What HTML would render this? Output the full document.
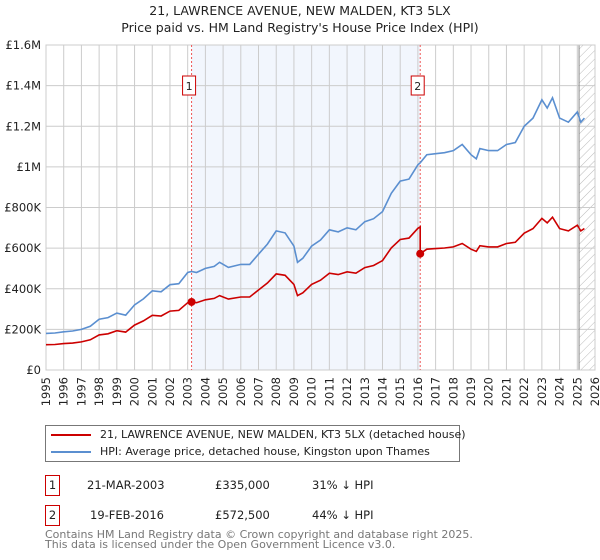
<!DOCTYPE html>
<html><head><meta charset="utf-8"><style>
body{margin:0;background:#fff;font-family:"DejaVu Sans","Liberation Sans",sans-serif;}
#wrap{position:relative;width:600px;height:560px;overflow:hidden;}
.t{position:absolute;color:#222;white-space:nowrap;}
</style></head><body>
<div id="wrap">
<svg id="chart" width="600" height="420" style="position:absolute;left:0;top:0">
<defs><pattern id="hatch" width="6" height="6" patternUnits="userSpaceOnUse" patternTransform="rotate(45)"><line x1="0" y1="0" x2="0" y2="6" stroke="#bbb" stroke-width="1"/></pattern></defs>
<text x="300" y="15" text-anchor="middle" font-size="12.5" fill="#222" font-family="DejaVu Sans,sans-serif">21, LAWRENCE AVENUE, NEW MALDEN, KT3 5LX</text>
<text x="300" y="32" text-anchor="middle" font-size="12.5" fill="#222" font-family="DejaVu Sans,sans-serif">Price paid vs. HM Land Registry's House Price Index (HPI)</text>
<g id="g"></g>
</svg>
<div style="position:absolute;left:45px;top:425px;width:413px;height:35px;border:1px solid #777;font-size:11px;">
<div style="position:absolute;left:5px;top:8px;width:40px;height:2px;background:#cc0000"></div>
<div class="t" style="left:54px;top:2px">21, LAWRENCE AVENUE, NEW MALDEN, KT3 5LX (detached house)</div>
<div style="position:absolute;left:5px;top:25px;width:40px;height:2px;background:#5b8fd0"></div>
<div class="t" style="left:54px;top:19px">HPI: Average price, detached house, Kingston upon Thames</div>
</div>
<div style="font-size:11.5px">
<div class="t" style="left:45px;top:475px;width:13px;height:19px;border:1px solid #cc0000;text-align:center;line-height:18px">1</div>
<div class="t" style="left:87px;top:478px">21-MAR-2003</div>
<div class="t" style="left:215px;top:478px">£335,000</div>
<div class="t" style="left:312px;top:478px">31% ↓ HPI</div>
</div>
<div style="font-size:11.5px">
<div class="t" style="left:45px;top:505px;width:13px;height:19px;border:1px solid #cc0000;text-align:center;line-height:18px">2</div>
<div class="t" style="left:90px;top:508px">19-FEB-2016</div>
<div class="t" style="left:215px;top:508px">£572,500</div>
<div class="t" style="left:312px;top:508px">44% ↓ HPI</div>
</div>
<div class="t" style="left:45px;top:530px;font-size:11px;color:#777;line-height:10px">Contains HM Land Registry data © Crown copyright and database right 2025.<br>This data is licensed under the Open Government Licence v3.0.</div>
</div>
<script>
const hpiYears=[1995,1995.5,1996,1996.5,1997,1997.5,1998,1998.5,1999,1999.5,2000,2000.5,2001,2001.5,2002,2002.5,2003,2003.22,2003.5,2004,2004.5,2004.8,2005.3,2006,2006.5,2007,2007.5,2008,2008.5,2009,2009.2,2009.5,2010,2010.5,2011,2011.5,2012,2012.5,2013,2013.5,2014,2014.5,2015,2015.5,2016,2016.13,2016.5,2017,2017.5,2018,2018.5,2019,2019.3,2019.5,2020,2020.5,2021,2021.5,2022,2022.5,2023,2023.3,2023.6,2024,2024.5,2025,2025.2,2025.4];
const hpiValues=[180000,182000,188000,192000,200000,215000,250000,258000,280000,270000,320000,350000,390000,385000,420000,425000,480000,485000,480000,500000,510000,530000,505000,520000,520000,570000,620000,685000,675000,610000,530000,550000,610000,640000,690000,680000,700000,690000,730000,745000,780000,870000,930000,940000,1010000,1020000,1060000,1065000,1070000,1080000,1110000,1060000,1040000,1090000,1080000,1080000,1110000,1120000,1200000,1240000,1330000,1290000,1340000,1240000,1220000,1270000,1220000,1240000];
const saleYears=[2003.22,2016.13];
const salePrices=[335000,572500];
const saleLabels=["1","2"];
const yTicks=[0,200000,400000,600000,800000,1000000,1200000,1400000,1600000];
const yTickLabels=["£0","£200K","£400K","£600K","£800K","£1M","£1.2M","£1.4M","£1.6M"];
const xTicks=[1995,1996,1997,1998,1999,2000,2001,2002,2003,2004,2005,2006,2007,2008,2009,2010,2011,2012,2013,2014,2015,2016,2017,2018,2019,2020,2021,2022,2023,2024,2025,2026];

const L=46,R=595,T=45,B=370;
const x=v=>L+(v-1995)/(2026-1995)*(R-L);
const y=v=>B-v/1600000*(B-T);
const g=document.getElementById('g');
const NS='http://www.w3.org/2000/svg';
function mk(tag,a){const e=document.createElementNS(NS,tag);for(const k in a)e.setAttribute(k,a[k]);g.appendChild(e);return e;}
function interp(t){for(let i=1;i<hpiYears.length;i++){if(t<=hpiYears[i]){const f=(t-hpiYears[i-1])/(hpiYears[i]-hpiYears[i-1]);return hpiValues[i-1]+f*(hpiValues[i]-hpiValues[i-1]);}}return hpiValues[hpiValues.length-1];}

let e=mk('rect',{x:x(saleYears[0]),y:T,width:x(saleYears[1])-x(saleYears[0]),height:B-T,fill:'#f2f6fd'});


e=mk('rect',{x:x(2025.1),y:T,width:R-x(2025.1),height:B-T,fill:'url(#hatch)'});


xTicks.forEach(t=>{
 const l=mk('line',{x1:x(t),x2:x(t),y1:T,y2:B,stroke:'#ccc','stroke-width':1});
 
 
 const tx=mk('text',{x:0,y:0,transform:`translate(${x(t)+4},${377}) rotate(-90)`,'text-anchor':'end','font-size':11.5,fill:'#222'});
 tx.textContent=t;
 
 
});
yTicks.forEach((t,i)=>{
 const l=mk('line',{x1:L,x2:R,y1:y(t),y2:y(t),stroke:'#ccc','stroke-width':1});
 
 
 const tx=mk('text',{x:L-5,y:y(t)+4,'text-anchor':'end','font-size':11.5,fill:'#222'});
 tx.textContent=yTickLabels[i];
 
 
});
e=mk('line',{x1:x(2025.1),x2:x(2025.1),y1:T,y2:B,stroke:'#888','stroke-width':1});


e=mk('rect',{x:L,y:T,width:R-L,height:B-T,fill:'none',stroke:'#ccc'});


saleYears.forEach((s,i)=>{
 const l=mk('line',{x1:x(s),x2:x(s),y1:T,y2:B,stroke:'#e55','stroke-width':1,'stroke-dasharray':'2,2'});
 
 
 const r=mk('rect',{x:x(s)-9,y:76,width:13,height:19,fill:'#fff',stroke:'#cc0000'});
 
 
 const tx=mk('text',{x:x(s)-2.5,y:90,'text-anchor':'middle','font-size':11,fill:'#222'});
 tx.textContent=saleLabels[i];
 
 
});
let d=hpiYears.map((t,i)=>(i?'L':'M')+x(t).toFixed(1)+','+y(hpiValues[i]).toFixed(1)).join('');
e=mk('path',{d:d,fill:'none',stroke:'#5b8fd0','stroke-width':1.6});


const r0=salePrices[0]/interp(saleYears[0]), r1=salePrices[1]/interp(saleYears[1]);
let pts=[];
hpiYears.forEach((t,i)=>{
 if(t<saleYears[1]) pts.push([t,hpiValues[i]*r0]);
 else if(t===saleYears[1]){pts.push([t,hpiValues[i]*r0]);pts.push([t,hpiValues[i]*r1]);}
 else pts.push([t,hpiValues[i]*r1]);
});
d=pts.map((p,i)=>(i?'L':'M')+x(p[0]).toFixed(1)+','+y(p[1]).toFixed(1)).join('');
e=mk('path',{d:d,fill:'none',stroke:'#cc0000','stroke-width':1.6});


saleYears.forEach((s,i)=>{
 const c=mk('circle',{cx:x(s),cy:y(salePrices[i]),r:4,fill:'#cc0000'});
 
 
});
</script>
</body></html>
